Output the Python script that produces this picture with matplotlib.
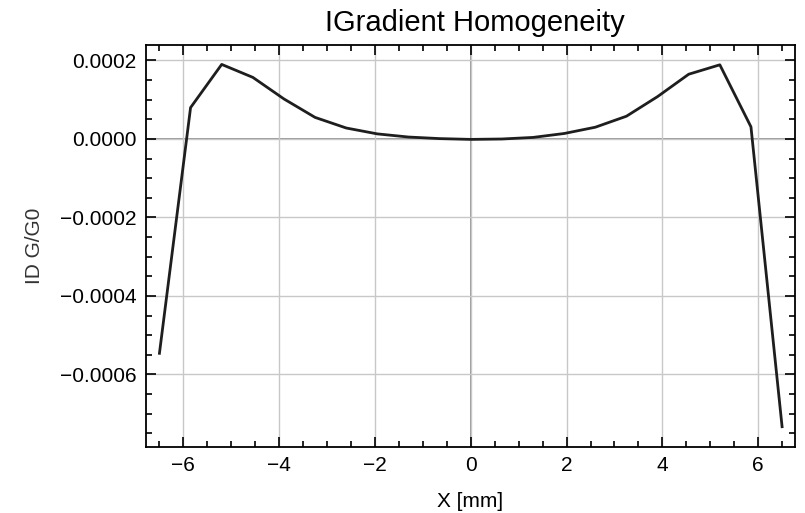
import matplotlib
matplotlib.use("Agg")
import matplotlib.pyplot as plt
from matplotlib.ticker import MultipleLocator, FuncFormatter

plt.rcParams['font.family'] = ['Liberation Sans', 'DejaVu Sans']

# Sample positions (mm) and relative gradient deviation
x_mm = [-6.5, -5.85, -5.2, -4.55, -3.9, -3.25, -2.6, -1.95, -1.3, -0.65, 0.0,
        0.65, 1.3, 1.95, 2.6, 3.25, 3.9, 4.55, 5.2, 5.85, 6.5]
dg_g0 = [-0.000546, 0.000080, 0.000190, 0.000157, 0.000102, 0.000055, 0.000028,
         0.000013, 0.000005, 0.000001, -0.000001, 0.000000, 0.000004, 0.000014,
         0.000030, 0.000058, 0.000108, 0.000165, 0.000189, 0.000031, -0.000733]

title = "IGradient Homogeneity"
xlabel = "X [mm]"
ylabel = "ID G/G0"


def fmt(fstr):
    # format with a real minus sign, like the original
    def f(v, pos):
        s = fstr % v
        if s.startswith('-'):
            s = '\u2212' + s[1:]
        if s.strip('\u22120.') == '':
            s = s.replace('\u2212', '')
        return s
    return FuncFormatter(f)


fig = plt.figure(figsize=(8.05, 5.13), dpi=100)
ax = fig.add_axes([0.1814, 0.1292, 0.8062, 0.7831])

# grid and zero axes
ax.grid(True, which='major', color='#c8c8c8', linewidth=1.0)
ax.axhline(0, color='#7a7a7a', linewidth=1.1, zorder=1.5)
ax.axvline(0, color='#7a7a7a', linewidth=1.1, zorder=1.5)

ax.plot(x_mm, dg_g0, color='#1e1e1e', linewidth=2.0, zorder=3)

ax.set_xlim(-6.78, 6.77)
ax.set_ylim(-0.000784, 0.0002395)

ax.xaxis.set_major_locator(MultipleLocator(2))
ax.xaxis.set_minor_locator(MultipleLocator(0.5))
ax.yaxis.set_major_locator(MultipleLocator(0.0002))
ax.yaxis.set_minor_locator(MultipleLocator(0.00005))
ax.yaxis.set_major_formatter(fmt('%.4f'))
ax.xaxis.set_major_formatter(fmt('%d'))

ax.tick_params(which='both', direction='in', top=True, right=True,
               color='black', width=1.2)
ax.tick_params(which='major', length=7, labelsize=15, pad=7)
ax.tick_params(which='minor', length=4)

for s in ax.spines.values():
    s.set_linewidth(1.3)
    s.set_color('black')

ax.set_title(title, fontsize=21, pad=10, x=0.507)
ax.set_xlabel(xlabel, fontsize=15, labelpad=12)
ax.set_ylabel(ylabel, fontsize=15, labelpad=11, color='#333333')

fig.savefig("out.png", dpi=100)
